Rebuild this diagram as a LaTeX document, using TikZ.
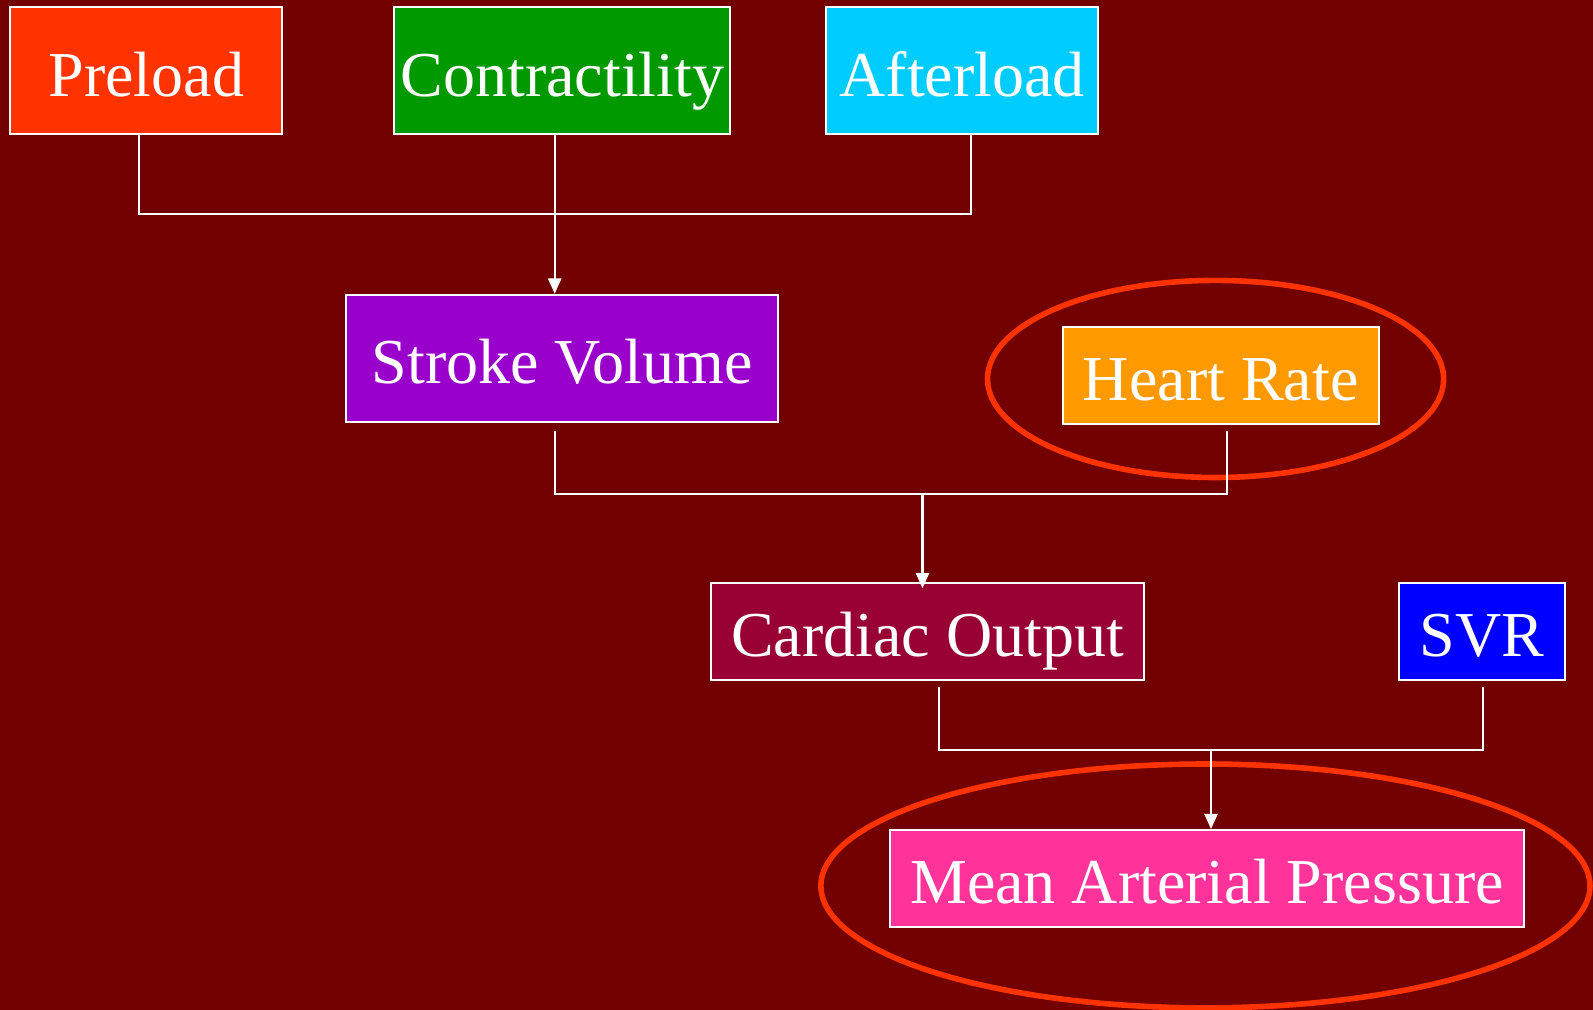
\documentclass[tikz,border=0pt]{standalone}
\usepackage{fontspec}
\setmainfont{Liberation Serif}
\usetikzlibrary{arrows.meta,shapes.geometric}
\definecolor{bgred}{HTML}{720000}
\definecolor{cpre}{HTML}{FF3300}
\definecolor{ccon}{HTML}{009900}
\definecolor{caft}{HTML}{00CCFF}
\definecolor{csv}{HTML}{9900CC}
\definecolor{chr}{HTML}{FF9900}
\definecolor{cco}{HTML}{990033}
\definecolor{csvr}{HTML}{0000FF}
\definecolor{cmap}{HTML}{FF3399}
\definecolor{cring}{HTML}{FF3300}
\tikzset{
  box/.style={draw=white, line width=2pt, text=white, inner sep=0pt,
    font=\fontsize{63}{75}\selectfont, text height=50pt, text depth=0pt, align=center},
  link/.style={draw=white, line width=2pt},
  arrow/.style={link, -{Triangle[width=13pt,length=15pt]}},
  ring/.style={draw=cring, line width=5.5pt, shape=ellipse, inner sep=0pt}
}
\begin{document}
\begin{tikzpicture}[x=1pt,y=-1pt]
\fill[bgred] (0,0) rectangle (1568,994);
\useasboundingbox (0,0) rectangle (1568,994);

% nodes
\node[box, fill=cpre, minimum width=268pt, minimum height=125pt] (pre) at (144,69.5) {Preload};
\node[box, fill=ccon, minimum width=331pt, minimum height=125pt] (con) at (553.5,69.5) {Contractility};
\node[box, fill=caft, minimum width=268pt, minimum height=125pt] (aft) at (947,69.5) {Afterload};
\node[box, fill=csv, minimum width=425pt, minimum height=125pt] (sv) at (553.5,352.5) {Stroke Volume};
\node[box, fill=chr, minimum width=311pt, minimum height=95pt] (hr) at (1201.5,369.5) {Heart Rate};
\node[box, fill=cco, minimum width=426pt, minimum height=95pt] (co) at (913,621.5) {Cardiac Output};
\node[box, fill=csvr, minimum width=163pt, minimum height=95pt] (svr) at (1458.5,621.5) {SVR};
\node[box, fill=cmap, minimum width=624pt, minimum height=95pt] (map) at (1188,864.5) {Mean Arterial Pressure};

% highlight rings
\node[ring, minimum width=449pt, minimum height=194pt] (hrring) at (1196.5,373) {};
\node[ring, minimum width=757pt, minimum height=240pt] (mapring) at (1186.5,872) {};

% junctions
\coordinate (j1) at (546,211);
\coordinate (j2) at (908,486);
\coordinate (j3) at (1192,738);

% group 1
\draw[link] ([xshift=-7pt]pre.south) |- (j1);
\draw[link] ([xshift=9pt]aft.south) |- (j1);
\draw[arrow] ([xshift=-7.5pt]con.south) -- ([xshift=-7.5pt]sv.north);

% group 2
\draw[link] ([xshift=-7.5pt,yshift=-8pt]sv.south) |- (j2);
\draw[link] ([xshift=6.5pt,yshift=-6pt]hr.south) |- (j2);
\draw[arrow] (j2) -- ([xshift=-5pt,yshift=-6pt]co.north);

% group 3
\draw[link] ([xshift=11pt,yshift=-6pt]co.south) |- (j3);
\draw[link] ([xshift=1.5pt,yshift=-6pt]svr.south) |- (j3);
\draw[arrow] (j3) -- ([xshift=4pt]map.north);
\end{tikzpicture}
\end{document}
